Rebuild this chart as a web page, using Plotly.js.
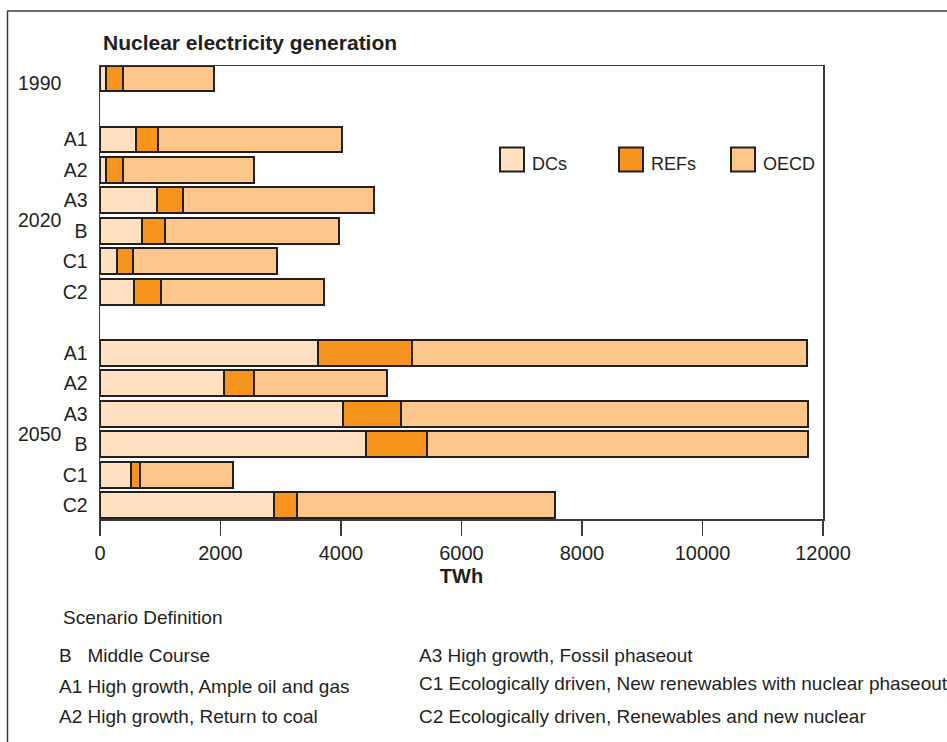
<!DOCTYPE html>
<html>
<head>
<meta charset="utf-8">
<script src="https://cdn.plot.ly/plotly-3.0.1.min.js"></script>
<style>
  html, body { margin: 0; padding: 0; background: #ffffff; }
  #chart { width: 947px; height: 742px; }
</style>
</head>
<body>
<div id="chart"></div>
<script>
// ---- data ----
const rows = ["1990", "gap1", "2020 A1", "2020 A2", "2020 A3", "2020 B", "2020 C1", "2020 C2", "gap2",
              "2050 A1", "2050 A2", "2050 A3", "2050 B", "2050 C1", "2050 C2"];
const rowLabels = ["", "", "A1", "A2", "A3", "B", "C1", "C2", "", "A1", "A2", "A3", "B", "C1", "C2"];
const dcs  = [100, null, 600, 100, 940, 700, 290, 570, null, 3620, 2050, 4040, 4420, 510, 2880];
const refs = [280, null, 370, 280, 440, 375, 250, 445, null, 1560, 500, 960, 1000, 155, 385];
const oecd = [1520, null, 3040, 2170, 3170, 2900, 2400, 2710, null, 6550, 2210, 6750, 6330, 1545, 4295];
const seriesNames = ["DCs", "REFs", "OECD"];
const seriesColors = ["#fee1c1", "#f7941e", "#fdc78b"];
const groupLabels = ["1990", "2020", "2050"];
const xTicks = [0, 2000, 4000, 6000, 8000, 10000, 12000];
const scenarioLeft = ["B   Middle Course", "A1 High growth, Ample oil and gas", "A2 High growth, Return to coal"];
const scenarioRight = ["A3 High growth, Fossil phaseout", "C1 Ecologically driven, New renewables with nuclear phaseout",
                       "C2 Ecologically driven, Renewables and new nuclear"];

// ---- layout helpers ----
const W = 947, H = 742;
const M = {l: 100, r: 124, t: 66, b: 223};
const PW = W - M.l - M.r, PH = H - M.t - M.b;
const px = x => (x - M.l) / PW;
const py = y => (H - M.b - y) / PH;
const FONT = "'Liberation Sans', Arial, Helvetica, sans-serif";
const TXT = "#231f20";
const EDGE = "#231f20";

const traces = [dcs, refs, oecd].map((vals, i) => ({
  type: "bar",
  orientation: "h",
  name: seriesNames[i],
  y: rows,
  x: vals,
  marker: {color: seriesColors[i], line: {color: EDGE, width: 2}},
  hoverinfo: "x+name"
}));

const annotations = [];
const shapes = [];

// group labels
const groupPos = [0, 4.64, 11.66];
const groupShift = [-4, 0, 0];
groupLabels.forEach((g, i) => {
  annotations.push({text: g, xref: "paper", yref: "y", x: px(40), y: groupPos[i], yshift: groupShift[i],
    xanchor: "center", yanchor: "middle", showarrow: false, font: {family: FONT, size: 19.5, color: TXT}});
});

// legend (manual, large swatches)
const legX = [500, 619, 731];
const legY = 159.5;
seriesNames.forEach((n, i) => {
  shapes.push({type: "rect", xref: "paper", yref: "paper",
    x0: px(legX[i]), x1: px(legX[i] + 24), y0: py(legY + 12), y1: py(legY - 12),
    fillcolor: seriesColors[i], line: {color: EDGE, width: 2}});
  annotations.push({text: n, xref: "paper", yref: "paper", x: px(legX[i] + 30), y: py(legY + 4),
    xanchor: "left", yanchor: "middle", showarrow: false, font: {family: FONT, size: 18, color: TXT}});
});

// scenario definitions
const FS = 19;
annotations.push({text: "Scenario Definition", xref: "paper", yref: "paper", x: px(61), y: py(617),
  xanchor: "left", yanchor: "middle", showarrow: false, font: {family: FONT, size: FS, color: TXT}});
const leftY = [655, 686, 716], rightY = [655, 684, 716];
scenarioLeft.forEach((t, i) => annotations.push({text: t, xref: "paper", yref: "paper", x: px(57), y: py(leftY[i]),
  xanchor: "left", yanchor: "middle", showarrow: false, font: {family: FONT, size: FS, color: TXT}}));
scenarioRight.forEach((t, i) => annotations.push({text: t, xref: "paper", yref: "paper", x: px(417), y: py(rightY[i]),
  xanchor: "left", yanchor: "middle", showarrow: false, font: {family: FONT, size: FS, color: TXT}}));

// outer frame (left and top edges)
shapes.push({type: "line", xref: "paper", yref: "paper", x0: px(7.5), x1: px(7.5), y0: py(11), y1: py(H + 2),
  line: {color: "#3a3a3a", width: 1.5}});
shapes.push({type: "line", xref: "paper", yref: "paper", x0: px(7), x1: px(W + 2), y0: py(11), y1: py(11),
  line: {color: "#3a3a3a", width: 1.5}});

const layout = {
  width: W, height: H,
  margin: M,
  paper_bgcolor: "#ffffff",
  plot_bgcolor: "#ffffff",
  barmode: "stack",
  bargap: 0.15,
  showlegend: false,
  font: {family: FONT, size: 19, color: TXT},
  title: {text: "<b>Nuclear electricity generation</b>", xref: "paper", x: px(103), xanchor: "left",
    yref: "container", y: 1 - 43 / H, yanchor: "middle", font: {family: FONT, size: 21, color: TXT}},
  xaxis: {
    range: [0, 12000], tickvals: xTicks, ticktext: xTicks.map(String),
    showgrid: false, zeroline: false,
    showline: true, linecolor: "#3a3a3a", linewidth: 1.5, mirror: true,
    ticks: "outside", ticklen: 15, tickwidth: 1.2, tickcolor: "#3a3a3a",
    tickfont: {family: FONT, size: 20, color: TXT},
    title: {text: "<b>TWh</b>", standoff: 6, font: {family: FONT, size: 20, color: TXT}}
  },
  yaxis: {
    type: "category", categoryorder: "array", categoryarray: rows,
    range: [14.454, -0.411],
    tickvals: rows, ticktext: rowLabels,
    showgrid: false, zeroline: false,
    showline: true, linecolor: "#3a3a3a", linewidth: 1.5, mirror: true,
    ticks: "", ticklabelstandoff: 7,
    tickfont: {family: FONT, size: 19.5, color: TXT}
  },
  annotations: annotations,
  shapes: shapes
};

Plotly.newPlot("chart", traces, layout, {displayModeBar: false, staticPlot: true});
</script>
</body>
</html>
